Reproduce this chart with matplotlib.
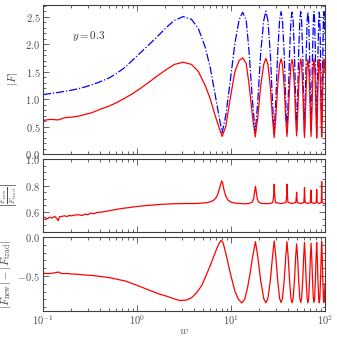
import numpy as np
import matplotlib
matplotlib.use('Agg')
import matplotlib.pyplot as plt
from matplotlib.ticker import FixedLocator, MultipleLocator, FuncFormatter, LogLocator, NullFormatter

plt.rcParams['mathtext.fontset'] = 'cm'
plt.rcParams['font.family'] = 'serif'

# |F| for both methods
w_top = [0.1, 0.12, 0.145, 0.17, 0.2, 0.24, 0.28, 0.33, 0.4, 0.5, 0.6, 0.75, 0.9, 1.1, 1.4, 1.7, 2.07, 2.5,
         3.1, 3.8, 4.5, 5.3, 6.0, 6.75, 7.5, 8.05, 8.8, 9.75, 11.0, 12.2, 13.3, 14.5, 15.5, 16.9, 18.1,
         19.25, 20.7, 22.3, 23.5, 24.7, 26.2, 27.65, 28.8,
         29.95, 31.4, 32.9, 34.1, 35.3, 36.8, 38.25, 39.4,
         40.55, 42.0, 43.4, 44.6, 45.8, 47.3, 48.75, 49.9,
         51.05, 52.5, 54.0, 55.2, 56.4, 57.9, 59.35, 60.5,
         61.65, 63.1, 64.6, 65.8, 67.0, 68.5, 69.95, 71.1,
         72.25, 73.7, 75.2, 76.4, 77.6, 79.0, 80.45, 81.6,
         82.75, 84.2, 85.7, 86.9, 88.1, 89.6, 91.05, 92.2,
         93.35, 94.8, 96.3, 97.5, 98.7, 100.0]
F_new = [1.08, 1.10, 1.12, 1.14, 1.16, 1.19, 1.22, 1.26, 1.31, 1.38, 1.46, 1.58, 1.71, 1.85, 2.02, 2.16, 2.31, 2.43,
         2.50, 2.45, 2.28, 1.95, 1.58, 1.10, 0.66, 0.39, 0.70, 1.29, 2.01, 2.44, 2.58, 2.44, 1.90, 0.98, 0.38,
         0.95, 1.84, 2.43, 2.60, 2.43, 1.83, 0.94, 0.37,
         0.96, 1.85, 2.44, 2.59, 2.42, 1.82, 0.93, 0.40,
         0.95, 1.84, 2.43, 2.58, 2.43, 1.84, 0.96, 0.42,
         0.96, 1.85, 2.44, 2.59, 2.42, 1.83, 0.95, 0.38,
         0.95, 1.83, 2.42, 2.58, 2.43, 1.84, 0.96, 0.41,
         0.97, 1.85, 2.43, 2.59, 2.42, 1.83, 0.94, 0.37,
         0.95, 1.84, 2.43, 2.58, 2.43, 1.84, 0.95, 0.40,
         0.95, 1.84, 2.43, 2.58, 2.44, 2.20]
F_trad = [0.61, 0.63, 0.62, 0.66, 0.67, 0.69, 0.72, 0.75, 0.81, 0.87, 0.93, 1.02, 1.10, 1.20, 1.33, 1.44, 1.54, 1.63,
          1.67, 1.63, 1.50, 1.25, 1.01, 0.71, 0.47, 0.32, 0.50, 0.98, 1.50, 1.70, 1.75, 1.65, 1.29, 0.70, 0.31,
          0.66, 1.24, 1.63, 1.74, 1.63, 1.23, 0.65, 0.30,
          0.66, 1.25, 1.63, 1.73, 1.62, 1.23, 0.64, 0.32,
          0.66, 1.24, 1.62, 1.72, 1.62, 1.24, 0.66, 0.33,
          0.66, 1.24, 1.62, 1.73, 1.62, 1.23, 0.65, 0.30,
          0.66, 1.23, 1.61, 1.72, 1.62, 1.24, 0.66, 0.32,
          0.66, 1.24, 1.62, 1.73, 1.62, 1.23, 0.65, 0.29,
          0.66, 1.24, 1.62, 1.72, 1.62, 1.24, 0.65, 0.31,
          0.66, 1.24, 1.62, 1.72, 1.63, 1.48]

# ratio panel
w_ratio = [0.1, 0.105, 0.11, 0.118, 0.125, 0.133, 0.14, 0.145, 0.15, 0.16,
           0.17, 0.18, 0.19, 0.2, 0.22, 0.24, 0.26, 0.28, 0.3, 0.32,
           0.35, 0.38, 0.42, 0.46, 0.5, 0.6, 0.7, 0.8, 0.9, 1.0,
           1.2, 1.4, 1.7, 2.0, 2.5, 3.0, 3.5, 4.0, 4.5, 5.0,
           5.6, 6.2, 6.7, 7.1, 7.5, 7.8, 7.95, 8.15, 8.4, 8.8,
           9.3, 10.0, 11.0, 12.5, 14.0, 15.5, 16.8, 17.4, 17.9, 18.2,
           18.5, 19.0, 19.7, 21.0, 23.5, 26.0,
           27.8, 28.4, 28.8, 29.2, 29.8, 34.1,
           38.4, 39.0, 39.4, 39.8, 40.4, 44.6,
           48.9, 49.5, 49.9, 50.3, 50.9, 55.2,
           59.5, 60.1, 60.5, 60.9, 61.5, 65.8,
           70.1, 70.7, 71.1, 71.5, 72.1, 76.4,
           80.6, 81.2, 81.6, 82.0, 82.6, 86.9,
           91.2, 91.8, 92.2, 92.6, 93.2, 97.5, 100.0]
ratio = [0.555, 0.56, 0.548, 0.562, 0.555, 0.567, 0.552, 0.535, 0.565, 0.568,
         0.572, 0.566, 0.575, 0.572, 0.578, 0.58, 0.574, 0.585, 0.58, 0.592,
         0.588, 0.598, 0.60, 0.605, 0.61, 0.62, 0.628, 0.633, 0.638, 0.642,
         0.648, 0.652, 0.657, 0.66, 0.663, 0.664, 0.665, 0.664, 0.666, 0.668,
         0.672, 0.68, 0.695, 0.72, 0.77, 0.815, 0.835, 0.82, 0.77, 0.72,
         0.69, 0.675, 0.668, 0.665, 0.662, 0.665, 0.675, 0.70, 0.76, 0.795,
         0.76, 0.70, 0.675, 0.665, 0.664, 0.665,
         0.672, 0.72, 0.81, 0.72, 0.672, 0.664,
         0.672, 0.72, 0.81, 0.72, 0.672, 0.665,
         0.672, 0.71, 0.75, 0.71, 0.672, 0.664,
         0.672, 0.72, 0.785, 0.72, 0.672, 0.665,
         0.672, 0.72, 0.765, 0.72, 0.672, 0.664,
         0.672, 0.72, 0.77, 0.72, 0.672, 0.665,
         0.672, 0.73, 0.83, 0.73, 0.672, 0.664, 0.665]

# difference panel
w_diff = [0.1, 0.115, 0.13, 0.145, 0.16, 0.18, 0.2, 0.23, 0.26, 0.3,
          0.35, 0.4, 0.5, 0.6, 0.75, 0.9, 1.1, 1.4, 1.7, 2.07,
          2.5, 2.85, 3.36, 3.8, 4.31, 4.9, 5.5, 6.0, 6.5, 7.1,
          7.5, 7.8, 8.2, 8.6, 9.0, 9.9, 11.0, 12.0, 13.0, 14.0,
          15.0, 15.9, 17.0, 18.2,
          19.25, 20.7, 22.3, 23.5, 24.7, 26.2, 27.65, 28.8,
          29.95, 31.4, 32.9, 34.1, 35.3, 36.8, 38.25, 39.4,
          40.55, 42.0, 43.4, 44.6, 45.8, 47.3, 48.75, 49.9,
          51.05, 52.5, 54.0, 55.2, 56.4, 57.9, 59.35, 60.5,
          61.65, 63.1, 64.6, 65.8, 67.0, 68.5, 69.95, 71.1,
          72.25, 73.7, 75.2, 76.4, 77.6, 79.0, 80.45, 81.6,
          82.75, 84.2, 85.7, 86.9, 88.1, 89.6, 91.05, 92.2,
          93.35, 94.8, 96.3, 97.5, 98.7, 100.0]
diff = [-0.465, -0.47, -0.462, -0.45, -0.47, -0.468, -0.475, -0.478, -0.485, -0.49,
        -0.497, -0.505, -0.52, -0.54, -0.565, -0.60, -0.64, -0.69, -0.73, -0.76,
        -0.795, -0.815, -0.81, -0.78, -0.716, -0.62, -0.478, -0.37, -0.26, -0.14,
        -0.08, -0.045, -0.07, -0.16, -0.26, -0.48, -0.695, -0.80, -0.846, -0.80,
        -0.65, -0.478, -0.25, -0.06,
        -0.25, -0.56, -0.79, -0.845, -0.79, -0.56, -0.25, -0.05,
        -0.25, -0.56, -0.79, -0.84, -0.79, -0.56, -0.25, -0.06,
        -0.25, -0.56, -0.79, -0.845, -0.79, -0.56, -0.25, -0.09,
        -0.25, -0.56, -0.79, -0.84, -0.79, -0.56, -0.25, -0.07,
        -0.25, -0.56, -0.79, -0.845, -0.79, -0.56, -0.25, -0.08,
        -0.25, -0.56, -0.79, -0.84, -0.79, -0.56, -0.25, -0.07,
        -0.25, -0.56, -0.79, -0.845, -0.79, -0.56, -0.25, -0.06,
        -0.25, -0.56, -0.79, -0.84, -0.79, -0.60]

fig = plt.figure(figsize=(3.37, 3.41), dpi=100)
L, W = 43 / 337, 282 / 337
ax1 = fig.add_axes([L, 1 - 154 / 341, W, 149.5 / 341])
ax2 = fig.add_axes([L, 1 - 232 / 341, W, 73 / 341])
ax3 = fig.add_axes([L, 1 - 311 / 341, W, 74 / 341])

ax1.semilogx(w_top, F_new, color='#0000ff', ls='-.', lw=0.9)
ax1.semilogx(w_top, F_trad, color='#ff0000', ls='-', lw=0.9)
ax2.semilogx(w_ratio, ratio, color='#ff0000', lw=0.9)
ax3.semilogx(w_diff, diff, color='#ff0000', lw=0.9)

ax1.set_ylim(0, 2.72)
ax1.yaxis.set_major_locator(MultipleLocator(0.5))
ax1.yaxis.set_minor_locator(MultipleLocator(0.1))
ax2.set_ylim(0.45, 1.0)
ax2.yaxis.set_major_locator(FixedLocator([0.6, 0.8, 1.0]))
ax2.yaxis.set_minor_locator(MultipleLocator(0.05))
ax3.set_ylim(-0.95, 0.0)
ax3.yaxis.set_major_locator(FixedLocator([-0.5, 0.0]))
ax3.yaxis.set_minor_locator(MultipleLocator(0.1))

yfmt = FuncFormatter(lambda v, p: '$%.1f$' % v)
for ax in (ax1, ax2, ax3):
    ax.set_xlim(0.1, 100)
    ax.xaxis.set_major_locator(LogLocator(base=10, numticks=10))
    ax.xaxis.set_minor_locator(LogLocator(base=10, subs=np.arange(2, 10), numticks=10))
    ax.xaxis.set_minor_formatter(NullFormatter())
    ax.yaxis.set_major_formatter(yfmt)
    ax.tick_params(which='both', direction='in', top=True, right=True, labelsize=7.5,
                   colors='0.3', width=0.6, pad=2)
    ax.tick_params(which='major', length=4)
    ax.tick_params(which='minor', length=2)
    for s in ax.spines.values():
        s.set_color('0.25')
        s.set_linewidth(0.8)
for ax in (ax1, ax2):
    ax.xaxis.set_major_formatter(NullFormatter())
ax3.xaxis.set_major_formatter(FuncFormatter(lambda v, p: '$10^{%d}$' % round(np.log10(v))))

ax1.set_ylabel(r'$|F|$', fontsize=8, color='0.3')
ax1.yaxis.set_label_coords(-0.082, 0.5)
ax2.set_ylabel(r'$\left|\frac{F_{\rm new}}{F_{\rm trad}}\right|$', fontsize=7.5, color='0.3')
ax2.yaxis.set_label_coords(-0.086, 0.5)
ax3.set_ylabel(r'$|F_{\rm new}|-|F_{\rm trad}|$', fontsize=8, color='0.3')
ax3.yaxis.set_label_coords(-0.105, 0.5)
ax3.set_xlabel(r'$w$', fontsize=8, color='0.3')
ax3.xaxis.set_label_coords(0.5, -0.2)
ax1.text(0.103, 0.79, r'$y = 0.3$', transform=ax1.transAxes, fontsize=8, color='0.2',
         ha='left', va='center')

fig.savefig('out.png', dpi=100)
